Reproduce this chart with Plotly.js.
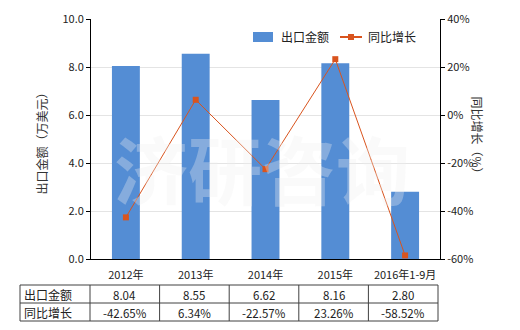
<!DOCTYPE html>
<html><head><meta charset="utf-8">
<script src="https://cdn.plot.ly/plotly-3.0.1.min.js"></script>
<style>html,body{margin:0;padding:0;background:#fff}#c{width:520px;height:330px}</style>
</head><body><div id="c"></div>
<script>
const categories = ['2012年','2013年','2014年','2015年','2016年1-9月'];
const exportValues = [8.04, 8.55, 6.62, 8.16, 2.80];
const growthValues = [-42.65, 6.34, -22.57, 23.26, -58.52];
const exportLabels = ['8.04','8.55','6.62','8.16','2.80'];
const growthLabels = ['-42.65%','6.34%','-22.57%','23.26%','-58.52%'];
const seriesNames = ['出口金额','同比增长'];
const leftTicks = [0,2,4,6,8,10];
const rightTicks = [-60,-40,-20,0,20,40];

const FONT = '"Noto Sans CJK SC", "Microsoft YaHei", sans-serif';
const barColor = '#548dd4';
const lineColor = '#d9541e';

const traces = [
  {type:'bar', x:categories, y:exportValues, name:seriesNames[0], marker:{color:barColor}, width:0.4, hoverinfo:'none', showlegend:false},
  {type:'scatter', mode:'lines+markers', x:categories, y:growthValues, yaxis:'y2', name:seriesNames[1],
   line:{color:lineColor, width:1}, marker:{symbol:'square', size:6, color:lineColor}, hoverinfo:'none', showlegend:false}
];

const L=91, R=440, T=19, B=259, W=520, H=330;
const px = x => (x-L)/(R-L);
const py = y => (B-y)/(B-T);
const tLeft=20, tRight=438, tTop=285, tMid=303, tBot=321, colW=(tRight-90)/5;

const shapes = [];
const line = (x0,y0,x1,y1,c,w)=>shapes.push({type:'line', xref:'paper', yref:'paper', x0:px(x0), y0:py(y0), x1:px(x1), y1:py(y1), line:{color:c||'#404040', width:w||1}});
line(tLeft,tTop,tRight,tTop); line(tLeft,tMid,tRight,tMid); line(tLeft,tBot,tRight,tBot);
line(tLeft,tTop,tLeft,tBot);
for(let i=0;i<=5;i++){ line(90+i*colW,tTop,90+i*colW,tBot); }

// custom legend
shapes.push({type:'rect', xref:'paper', yref:'paper', x0:px(253), x1:px(273), y0:py(32), y1:py(42), fillcolor:barColor, line:{width:0}});
line(340,37,362,37,lineColor,2);
shapes.push({type:'rect', xref:'paper', yref:'paper', x0:px(348), x1:px(354), y0:py(34), y1:py(40), fillcolor:lineColor, line:{width:0}});

const annotations = [];
annotations.push({xref:'paper', yref:'paper', x:px(279), y:py(37), xanchor:'left', yanchor:'middle', text:seriesNames[0], showarrow:false, font:{family:FONT, size:12, color:'#222'}});
annotations.push({xref:'paper', yref:'paper', x:px(366), y:py(37), xanchor:'left', yanchor:'middle', text:seriesNames[1], showarrow:false, font:{family:FONT, size:12, color:'#222'}});

const rowData = [exportLabels, growthLabels];
const rowY = [(tTop+tMid)/2, (tMid+tBot)/2];
seriesNames.forEach((lab,r)=>{
  annotations.push({xref:'paper', yref:'paper', x:px(tLeft+2), y:py(rowY[r]), xanchor:'left', yanchor:'middle', text:lab, showarrow:false, font:{family:FONT, size:12, color:'#222'}});
  rowData[r].forEach((v,i)=>{
    annotations.push({xref:'paper', yref:'paper', x:px(90+colW*(i+0.5)), y:py(rowY[r]+1), xanchor:'center', yanchor:'middle', text:v, showarrow:false, font:{family:FONT, size:11.5, color:'#222'}});
  });
});
annotations.push({xref:'paper', yref:'paper', x:px(30), y:py(141), text:'出口金额（万美元）', textangle:-90, showarrow:false, font:{family:FONT, size:12, color:'#333'}});
annotations.push({xref:'paper', yref:'paper', x:px(488), y:py(138), text:'同比增长（%）', textangle:90, showarrow:false, font:{family:FONT, size:12, color:'#333'}});
annotations.push({xref:'paper', yref:'paper', x:px(262), y:py(166), text:'<b>济研咨询</b>', showarrow:false, font:{family:FONT, size:74, color:'rgba(238,238,238,0.32)'}});

const layout = {
  width:W, height:H,
  margin:{l:L, r:W-R, t:T, b:H-B},
  paper_bgcolor:'#fff', plot_bgcolor:'#fff',
  showlegend:false,
  bargap:0.6,
  xaxis:{type:'category', showline:true, linecolor:'#000', linewidth:1, ticks:'', tickfont:{family:FONT, size:11, color:'#222'}, fixedrange:true, ticklabelstandoff:6},
  yaxis:{range:[0,10], tickvals:leftTicks, ticktext:leftTicks.map(v=>v.toFixed(1)), showline:true, linecolor:'#000', linewidth:1, ticks:'outside', ticklen:4, tickcolor:'#000', showgrid:true, gridcolor:'#e4e4e4', zeroline:false, tickfont:{family:FONT, size:11, color:'#222'}},
  yaxis2:{overlaying:'y', side:'right', range:[-60,40], tickvals:rightTicks, ticktext:rightTicks.map(v=>v+'%'), showline:true, linecolor:'#000', linewidth:1, ticks:'outside', ticklen:4, tickcolor:'#000', showgrid:false, zeroline:false, tickfont:{family:FONT, size:11, color:'#222'}},
  shapes:shapes, annotations:annotations
};
Plotly.newPlot('c', traces, layout, {staticPlot:true, displayModeBar:false});
</script></body></html>
